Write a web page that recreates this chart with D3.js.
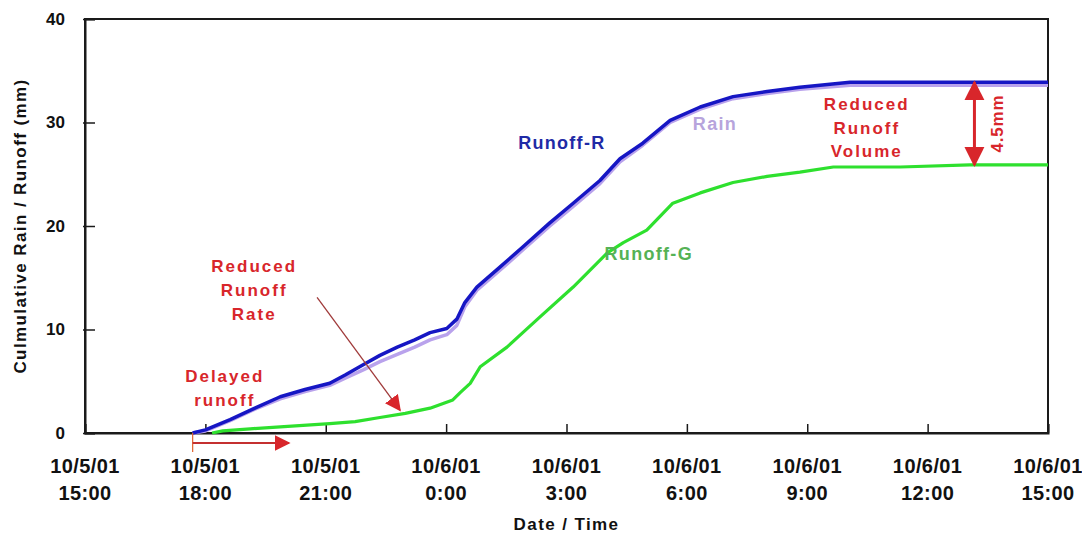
<!DOCTYPE html>
<html>
<head>
<meta charset="utf-8">
<script src="https://cdn.jsdelivr.net/npm/d3@7"></script>
<style>
  html, body { margin: 0; padding: 0; background: #fff; }
  svg { display: block; font-family: "Liberation Sans", Arial, sans-serif; }
</style>
</head>
<body>
<svg id="chart" width="1082" height="536"></svg>
<script>
// ---------- data (time, cumulative mm) ----------
const runoffR = [
  ["2001-10-05 17:41", 0.0], ["2001-10-05 18:00", 0.3], ["2001-10-05 18:37", 1.3],
  ["2001-10-05 19:14", 2.4], ["2001-10-05 19:52", 3.5], ["2001-10-05 20:29", 4.2],
  ["2001-10-05 21:06", 4.8], ["2001-10-05 21:29", 5.6], ["2001-10-05 21:56", 6.6],
  ["2001-10-05 22:21", 7.5], ["2001-10-05 22:47", 8.3], ["2001-10-05 23:13", 9.0],
  ["2001-10-05 23:36", 9.7], ["2001-10-06 00:01", 10.1], ["2001-10-06 00:16", 11.0],
  ["2001-10-06 00:28", 12.6], ["2001-10-06 00:46", 14.1], ["2001-10-06 01:20", 16.0],
  ["2001-10-06 01:55", 18.0], ["2001-10-06 02:35", 20.3], ["2001-10-06 03:10", 22.2],
  ["2001-10-06 03:50", 24.4], ["2001-10-06 04:20", 26.5], ["2001-10-06 04:54", 28.0],
  ["2001-10-06 05:35", 30.2], ["2001-10-06 06:20", 31.5], ["2001-10-06 07:09", 32.5],
  ["2001-10-06 08:00", 33.0], ["2001-10-06 08:49", 33.4], ["2001-10-06 10:04", 33.9],
  ["2001-10-06 15:00", 33.9]
];
const rain = [
  ["2001-10-05 17:41", 0.0], ["2001-10-05 18:00", 0.2], ["2001-10-05 18:37", 1.2],
  ["2001-10-05 19:14", 2.3], ["2001-10-05 19:52", 3.3], ["2001-10-05 20:29", 4.0],
  ["2001-10-05 21:06", 4.6], ["2001-10-05 21:29", 5.3], ["2001-10-05 21:56", 6.1],
  ["2001-10-05 22:21", 6.9], ["2001-10-05 22:47", 7.6], ["2001-10-05 23:13", 8.3],
  ["2001-10-05 23:36", 9.0], ["2001-10-06 00:01", 9.5], ["2001-10-06 00:16", 10.4],
  ["2001-10-06 00:28", 12.2], ["2001-10-06 00:46", 13.8], ["2001-10-06 01:20", 15.7],
  ["2001-10-06 01:55", 17.7], ["2001-10-06 02:35", 20.0], ["2001-10-06 03:10", 21.9],
  ["2001-10-06 03:50", 24.1], ["2001-10-06 04:20", 26.2], ["2001-10-06 04:54", 27.8],
  ["2001-10-06 05:35", 30.0], ["2001-10-06 06:20", 31.3], ["2001-10-06 07:09", 32.3],
  ["2001-10-06 08:00", 32.8], ["2001-10-06 08:49", 33.2], ["2001-10-06 10:04", 33.6],
  ["2001-10-06 15:00", 33.6]
];
const runoffG = [
  ["2001-10-05 18:10", 0.0], ["2001-10-05 18:26", 0.2], ["2001-10-05 19:07", 0.4],
  ["2001-10-05 19:52", 0.6], ["2001-10-05 21:06", 0.9], ["2001-10-05 21:44", 1.1],
  ["2001-10-05 22:21", 1.5], ["2001-10-05 22:59", 1.9], ["2001-10-05 23:36", 2.4],
  ["2001-10-06 00:10", 3.2], ["2001-10-06 00:21", 3.9], ["2001-10-06 00:36", 4.8],
  ["2001-10-06 00:51", 6.4], ["2001-10-06 01:31", 8.3], ["2001-10-06 02:20", 11.2],
  ["2001-10-06 03:10", 14.1], ["2001-10-06 04:01", 17.4], ["2001-10-06 04:25", 18.4],
  ["2001-10-06 05:00", 19.6], ["2001-10-06 05:39", 22.2], ["2001-10-06 06:20", 23.2],
  ["2001-10-06 07:09", 24.2], ["2001-10-06 08:00", 24.8], ["2001-10-06 08:49", 25.2],
  ["2001-10-06 09:39", 25.7], ["2001-10-06 11:19", 25.7], ["2001-10-06 13:03", 25.9],
  ["2001-10-06 15:00", 25.9]
];
const xTickTimes = [
  "2001-10-05 15:00", "2001-10-05 18:00", "2001-10-05 21:00", "2001-10-06 00:00",
  "2001-10-06 03:00", "2001-10-06 06:00", "2001-10-06 09:00", "2001-10-06 12:00",
  "2001-10-06 15:00"
];
const xTickDates = ["10/5/01", "10/5/01", "10/5/01", "10/6/01", "10/6/01", "10/6/01", "10/6/01", "10/6/01", "10/6/01"];
const xTickHours = ["15:00", "18:00", "21:00", "0:00", "3:00", "6:00", "9:00", "12:00", "15:00"];
const yTicks = [0, 10, 20, 30, 40];

// ---------- layout ----------
const parse = d3.timeParse("%Y-%m-%d %H:%M");
const svg = d3.select("#chart");
const pLeft = 85, pRight = 1048, pTop = 19, pBottom = 433;

const x = d3.scaleTime()
  .domain([parse(xTickTimes[0]), parse(xTickTimes[xTickTimes.length - 1])])
  .range([pLeft, pRight]);
const y = d3.scaleLinear().domain([0, 40]).range([pBottom, pTop]);

const RED = "#d8262b";

// frame
svg.append("rect")
  .attr("x", pLeft).attr("y", pTop)
  .attr("width", pRight - pLeft).attr("height", pBottom - pTop)
  .attr("fill", "none").attr("stroke", "#1a1a1a").attr("stroke-width", 2);

// y axis
const yAxis = d3.axisLeft(y).tickValues(yTicks).tickSize(-10).tickPadding(20)
  .tickFormat(d3.format("d"));
const yg = svg.append("g").attr("transform", `translate(${pLeft},0)`).call(yAxis);
yg.select(".domain").attr("stroke", "#1a1a1a").attr("stroke-width", 2);
yg.selectAll(".tick line").attr("stroke", "#1a1a1a").attr("stroke-width", 1.5)
  .attr("x1", -2);
yg.selectAll(".tick text")
  .attr("font-family", "'Liberation Sans', Arial, sans-serif")
  .attr("font-size", 17).attr("font-weight", "bold").attr("fill", "#111");

// x axis
const xTickDatesParsed = xTickTimes.map(parse);
const xAxis = d3.axisBottom(x).tickValues(xTickDatesParsed).tickSize(-9).tickFormat("");
const xg = svg.append("g").attr("transform", `translate(0,${pBottom})`).call(xAxis);
xg.select(".domain").attr("stroke", "#1a1a1a").attr("stroke-width", 2);
xg.selectAll(".tick line").attr("stroke", "#1a1a1a").attr("stroke-width", 1.5);
const labelG = svg.append("g")
  .attr("font-size", 20).attr("font-weight", "bold").attr("fill", "#111")
  .attr("letter-spacing", "0.4px")
  .attr("text-anchor", "middle");
xTickDatesParsed.forEach((t, i) => {
  labelG.append("text").attr("x", x(t)).attr("y", pBottom + 40).text(xTickDates[i]);
  labelG.append("text").attr("x", x(t)).attr("y", pBottom + 67).text(xTickHours[i]);
});

// axis titles
svg.append("text")
  .attr("x", (pLeft + pRight) / 2).attr("y", 530)
  .attr("text-anchor", "middle").attr("font-size", 17).attr("font-weight", "bold")
  .attr("letter-spacing", "1.4px").attr("fill", "#111")
  .text("Date / Time");
svg.append("text")
  .attr("transform", `translate(26,${(pTop + pBottom) / 2}) rotate(-90)`)
  .attr("text-anchor", "middle").attr("font-size", 17).attr("font-weight", "bold")
  .attr("letter-spacing", "1.4px").attr("fill", "#111")
  .text("Culmulative Rain / Runoff (mm)");

// lines
const line = d3.line().x(d => x(parse(d[0]))).y(d => y(d[1]));
svg.append("path").datum(rain).attr("d", line)
  .attr("fill", "none").attr("stroke", "#b9a2ec").attr("stroke-width", 3.5)
  .attr("stroke-linejoin", "round");
svg.append("path").datum(runoffG).attr("d", line)
  .attr("fill", "none").attr("stroke", "#2ee02e").attr("stroke-width", 3.2)
  .attr("stroke-linejoin", "round");
svg.append("path").datum(runoffR).attr("d", line)
  .attr("fill", "none").attr("stroke", "#1616c4").attr("stroke-width", 3.5)
  .attr("stroke-linejoin", "round");

// series labels
function label(txt, tx, vy, color, size) {
  svg.append("text").attr("x", x(parse(tx))).attr("y", y(vy))
    .attr("text-anchor", "middle").attr("font-size", size || 18).attr("font-weight", "bold")
    .attr("letter-spacing", "1.3px").attr("fill", color).text(txt);
}
label("Runoff-R", "2001-10-06 02:53", 27.4, "#1f2aa6");
label("Rain", "2001-10-06 06:42", 29.3, "#b7a4dc");
label("Runoff-G", "2001-10-06 05:03", 16.7, "#55b255");

// annotation text blocks
function block(lines, tx, vy, lh) {
  const g = svg.append("text").attr("text-anchor", "middle")
    .attr("font-size", 17).attr("font-weight", "bold").attr("letter-spacing", "2px")
    .attr("fill", RED);
  lines.forEach((l, i) => {
    g.append("tspan").attr("x", x(parse(tx))).attr("y", y(vy) + i * lh).text(l);
  });
}
block(["Reduced", "Runoff", "Rate"], "2001-10-05 19:13", 15.6, 24);
block(["Delayed", "runoff"], "2001-10-05 18:29", 4.95, 24);
block(["Reduced", "Runoff", "Volume"], "2001-10-06 10:29", 31.2, 23.5);

// arrow markers
const defs = svg.append("defs");
defs.append("marker").attr("id", "headR").attr("viewBox", "0 0 10 10")
  .attr("refX", 9).attr("refY", 5).attr("markerWidth", 16).attr("markerHeight", 16)
  .attr("markerUnits", "userSpaceOnUse").attr("orient", "auto")
  .append("path").attr("d", "M0,0 L10,5 L0,10 Z").attr("fill", RED);
defs.append("marker").attr("id", "headBig").attr("viewBox", "0 0 10 10")
  .attr("refX", 9).attr("refY", 5).attr("markerWidth", 20).attr("markerHeight", 22)
  .attr("markerUnits", "userSpaceOnUse").attr("orient", "auto-start-reverse")
  .append("path").attr("d", "M0,0 L10,5 L0,10 Z").attr("fill", RED);

// reduced runoff rate arrow
svg.append("line")
  .attr("x1", x(parse("2001-10-05 20:47"))).attr("y1", y(13.1))
  .attr("x2", x(parse("2001-10-05 22:51"))).attr("y2", y(2.2))
  .attr("stroke", "#a03a3a").attr("stroke-width", 1.3)
  .attr("marker-end", "url(#headR)");

// delayed runoff arrow
const tStart = parse("2001-10-05 17:41");
svg.append("line")
  .attr("x1", x(tStart)).attr("x2", x(tStart))
  .attr("y1", pBottom).attr("y2", pBottom + 19)
  .attr("stroke", "#e0602a").attr("stroke-width", 1.2);
svg.append("line")
  .attr("x1", x(tStart)).attr("y1", pBottom + 10)
  .attr("x2", x(parse("2001-10-05 20:05"))).attr("y2", pBottom + 10)
  .attr("stroke", "#c43030").attr("stroke-width", 2)
  .attr("marker-end", "url(#headR)");

// reduced volume double arrow
const tVol = parse("2001-10-06 13:10");
svg.append("line")
  .attr("x1", x(tVol)).attr("y1", y(25.9))
  .attr("x2", x(tVol)).attr("y2", y(33.9))
  .attr("stroke", RED).attr("stroke-width", 3)
  .attr("marker-start", "url(#headBig)").attr("marker-end", "url(#headBig)");
svg.append("text")
  .attr("transform", `translate(${x(tVol) + 29},${y(29.9)}) rotate(-90)`)
  .attr("text-anchor", "middle").attr("font-size", 17).attr("font-weight", "bold")
  .attr("letter-spacing", "0.8px").attr("fill", RED).text("4.5mm");
</script>
</body>
</html>
